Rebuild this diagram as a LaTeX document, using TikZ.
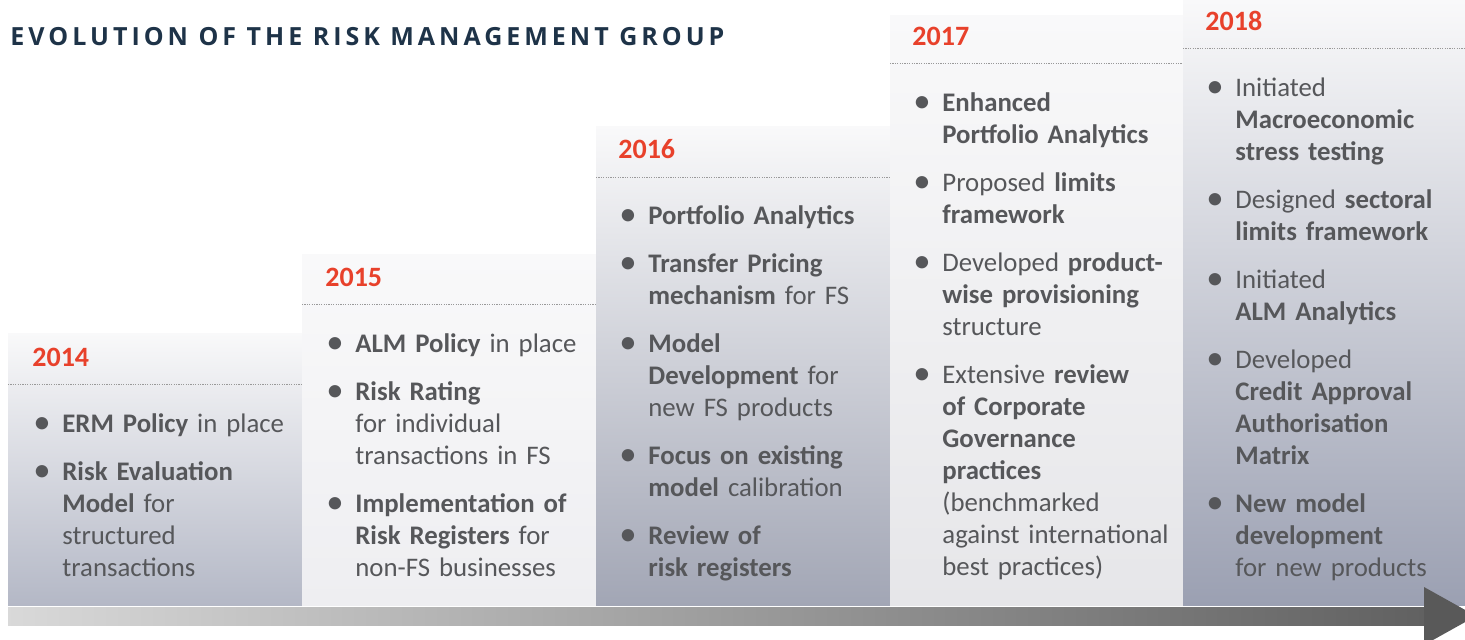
\documentclass[tikz,border=0pt]{standalone}
\usepackage{fontspec}
\setmainfont{Carlito}
\newfontfamily\titlefont[LetterSpace=16]{Open Sans}
\usetikzlibrary{positioning}

\definecolor{yearred}{HTML}{E8412B}
\definecolor{txtgray}{HTML}{56575A}
\definecolor{titleblue}{HTML}{1E3348}
\definecolor{coltop}{HTML}{F9F9FA}
\definecolor{darkA}{HTML}{B4B8C6}
\definecolor{darkB}{HTML}{A2A6B5}
\definecolor{darkC}{HTML}{9BA0B2}
\definecolor{lightA}{HTML}{EEEEF1}
\definecolor{lightB}{HTML}{E6E6E9}

% bullet paragraph
\newcommand{\bitem}{\par\hangindent=14.5pt\hangafter=1\noindent
  \makebox[14.5pt][l]{\strut\raisebox{-0.3pt}{\scalebox{1.3}{\textbullet}}}}

\tikzset{
  yearlabel/.style={anchor=base west, inner sep=0pt, text=yearred,
    font=\bfseries\fontsize{14}{16}\selectfont},
  itemlist/.style={inner sep=0pt, text width=#1, align=left, text=txtgray,
    font=\fontsize{13.4}{16}\selectfont,
    execute at begin node={\setlength{\parskip}{8pt}}},
  dotline/.style={gray!80, line width=0.5pt, dash pattern=on 0.6pt off 0.6pt},
}

\begin{document}
\begin{tikzpicture}[x=0.5pt, y=-0.5pt]
  \useasboundingbox (0,0) rectangle (1465,639);
  \clip (0,0) rectangle (1465,639);

  % Columns
  \foreach \l/\r/\t/\d/\c in {8/302/333/384/darkA, 302/596/254/304/lightA,
      596/890/126/177/darkB, 890/1183/15/63/lightB, 1183/1465/0/48/darkC} {
    \shade[top color=coltop, bottom color=\c] (\l,\t) rectangle (\r,605);
    \draw[dotline] (\l,\d) -- (\r,\d);
  }

  % Timeline arrow
  \shade[left color=gray!30, right color=black!62] (8,607) rectangle (1425,625);
  \fill[black!65] (1424,587) -- (1476,616) -- (1424,645) -- cycle;

  % Title
  \node[anchor=base west, inner sep=0pt, text=titleblue] (title) at (10,45)
    {\titlefont\bfseries\fontsize{12.5}{14}\selectfont EVOLUTION OF THE RISK MANAGEMENT GROUP};

  % Years
  \foreach \yr/\x/\b in {2014/32/366, 2015/325/286, 2016/618/158, 2017/912/45, 2018/1205/30}
    \node[yearlabel] (y\yr) at (\x,\b) {\yr};

  % Items
  \node[itemlist=140pt, below right=9pt and 0.5pt of y2014.base west] (list2014)
    {\bitem\textbf{ERM Policy} in place
     \bitem\textbf{Risk Evaluation}\newline\textbf{Model} for\newline structured\newline transactions\par};
  \node[itemlist=140pt, below right=9pt and 0.5pt of y2015.base west] (list2015)
    {\bitem\textbf{ALM Policy} in place
     \bitem\textbf{Risk Rating}\newline for individual\newline transactions in FS
     \bitem\textbf{Implementation of}\newline\textbf{Risk Registers} for\newline non-FS businesses\par};
  \node[itemlist=140pt, below right=9pt and 0.5pt of y2016.base west] (list2016)
    {\bitem\textbf{Portfolio Analytics}
     \bitem\textbf{Transfer Pricing}\newline\textbf{mechanism} for FS
     \bitem\textbf{Model}\newline\textbf{Development} for\newline new FS products
     \bitem\textbf{Focus on existing}\newline\textbf{model} calibration
     \bitem\textbf{Review of}\newline\textbf{risk registers}\par};
  \node[itemlist=140pt, below right=9pt and 0.5pt of y2017.base west] (list2017)
    {\bitem\textbf{Enhanced}\newline\textbf{Portfolio Analytics}
     \bitem Proposed \textbf{limits}\newline\textbf{framework}
     \bitem Developed \textbf{product-}\newline\textbf{wise provisioning}\newline structure
     \bitem Extensive \textbf{review}\newline\textbf{of Corporate}\newline\textbf{Governance}\newline\textbf{practices}\newline (benchmarked\newline against international\newline best practices)\par};
  \node[itemlist=140pt, below right=9pt and 0.5pt of y2018.base west] (list2018)
    {\bitem Initiated\newline\textbf{Macroeconomic}\newline\textbf{stress testing}
     \bitem Designed \textbf{sectoral}\newline\textbf{limits framework}
     \bitem Initiated\newline\textbf{ALM Analytics}
     \bitem Developed\newline\textbf{Credit Approval}\newline\textbf{Authorisation}\newline\textbf{Matrix}
     \bitem\textbf{New model}\newline\textbf{development}\newline for new products\par};
\end{tikzpicture}
\end{document}
